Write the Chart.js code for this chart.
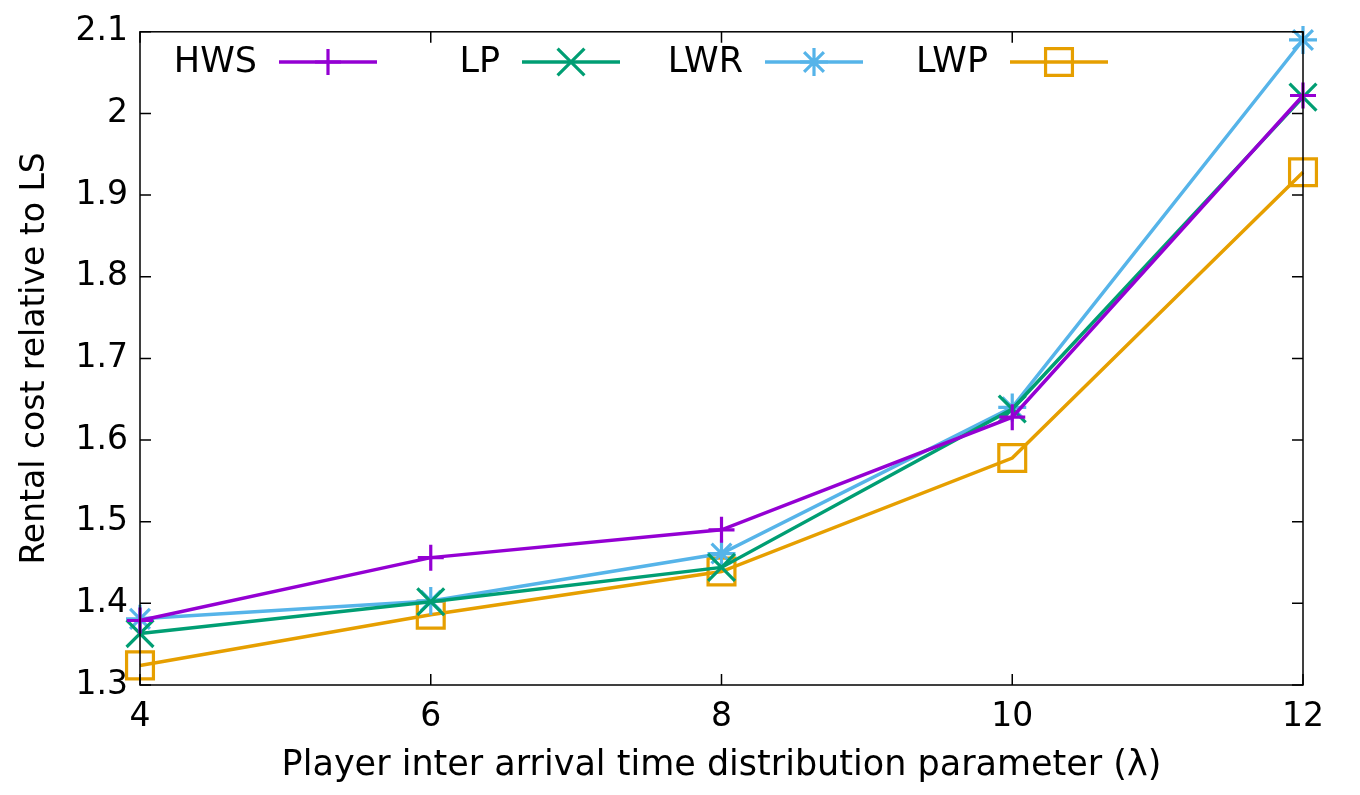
<!DOCTYPE html>
<html>
<head>
<meta charset="utf-8">
<script src="https://cdn.jsdelivr.net/npm/chart.js@4"></script>
<style>
html,body{margin:0;padding:0;background:#fff;}
#wrap{width:1360px;height:795px;position:relative;}
</style>
</head>
<body>
<div id="wrap"><canvas id="c" width="1360" height="795"></canvas></div>
<script>
const lambdas = [4, 6, 8, 10, 12];
const hws = [1.379, 1.456, 1.490, 1.628, 2.022];
const lp  = [1.363, 1.402, 1.444, 1.638, 2.020];
const lwr = [1.381, 1.403, 1.461, 1.640, 2.090];
const lwp = [1.324, 1.386, 1.439, 1.578, 1.928];
const yTicks = [1.3, 1.4, 1.5, 1.6, 1.7, 1.8, 1.9, 2.0, 2.1];
const xTicks = [4, 6, 8, 10, 12];
const seriesNames = ['HWS', 'LP', 'LWR', 'LWP'];

const FONT = "'DejaVu Sans', sans-serif";
const colors = ['#9400d3', '#009e73', '#56b4e9', '#e69f00'];
const styles = ['cross', 'crossRot', 'star', 'rect'];
const radii = [13, 19, 14, 19];
const values = [hws, lp, lwr, lwp];

const datasets = seriesNames.map((n, i) => ({
  label: n,
  data: lambdas.map((x, j) => ({x: x, y: values[i][j]})),
  borderColor: colors[i],
  backgroundColor: 'rgba(0,0,0,0)',
  borderWidth: 3.5,
  pointStyle: styles[i],
  pointRadius: radii[i],
  pointBorderWidth: 3.2,
  pointBorderColor: colors[i],
  pointBackgroundColor: 'rgba(0,0,0,0)',
  tension: 0,
  clip: false
}));

function drawMarker(ctx, style, r, x, y) {
  if (Chart.helpers && Chart.helpers.drawPoint) {
    Chart.helpers.drawPoint(ctx, {pointStyle: style, radius: r, rotation: 0, borderWidth: 3.2}, x, y);
    return;
  }
  ctx.beginPath();
  if (style === 'rect') {
    const s = Math.SQRT1_2 * r;
    ctx.rect(x - s, y - s, 2 * s, 2 * s);
  } else {
    if (style === 'cross' || style === 'star') {
      ctx.moveTo(x, y - r); ctx.lineTo(x, y + r);
      ctx.moveTo(x - r, y); ctx.lineTo(x + r, y);
    }
    if (style === 'crossRot' || style === 'star') {
      const o = Math.SQRT1_2 * r;
      ctx.moveTo(x - o, y - o); ctx.lineTo(x + o, y + o);
      ctx.moveTo(x - o, y + o); ctx.lineTo(x + o, y - o);
    }
  }
  ctx.stroke();
}

const framePlugin = {
  id: 'frame',
  afterDraw(chart) {
    const {ctx, chartArea: a, scales} = chart;
    ctx.save();
    ctx.strokeStyle = '#000';
    ctx.lineWidth = 1.5;
    ctx.strokeRect(a.left, a.top, a.right - a.left, a.bottom - a.top);
    const tl = 11;
    ctx.beginPath();
    xTicks.forEach(v => {
      const px = scales.x.getPixelForValue(v);
      ctx.moveTo(px, a.bottom); ctx.lineTo(px, a.bottom - tl);
      ctx.moveTo(px, a.top); ctx.lineTo(px, a.top + tl);
    });
    yTicks.forEach(v => {
      const py = scales.y.getPixelForValue(v);
      ctx.moveTo(a.left, py); ctx.lineTo(a.left + tl, py);
      ctx.moveTo(a.right, py); ctx.lineTo(a.right - tl, py);
    });
    ctx.stroke();

    // legend (gnuplot style: text then sample)
    const textRight = [257, 500, 743, 988];
    const ly = 62;
    ctx.font = '35px ' + FONT;
    ctx.textAlign = 'right';
    ctx.textBaseline = 'middle';
    seriesNames.forEach((n, i) => {
      ctx.fillStyle = '#000';
      ctx.fillText(n, textRight[i], ly + 1);
      const x0 = textRight[i] + 22, x1 = x0 + 98;
      ctx.strokeStyle = colors[i];
      ctx.lineWidth = 3.5;
      ctx.beginPath(); ctx.moveTo(x0, ly); ctx.lineTo(x1, ly); ctx.stroke();
      ctx.lineWidth = 3.2;
      ctx.fillStyle = 'rgba(0,0,0,0)';
      drawMarker(ctx, styles[i], radii[i], (x0 + x1) / 2, ly);
    });
    ctx.restore();
  }
};

new Chart(document.getElementById('c'), {
  type: 'line',
  data: {datasets: datasets},
  options: {
    responsive: false,
    animation: false,
    layout: {padding: {left: 0, top: 26, right: 57, bottom: 0}},
    plugins: {legend: {display: false}, tooltip: {enabled: false}},
    scales: {
      x: {
        type: 'linear',
        min: 4, max: 12,
        afterBuildTicks(s) { s.ticks = xTicks.map(v => ({value: v})); },
        afterFit(s) { s.height = 110; },
        grid: {display: false, drawTicks: false},
        border: {display: false},
        ticks: {color: '#000', font: {family: FONT, size: 33}, padding: 13, maxRotation: 0},
        title: {display: true, text: 'Player inter arrival time distribution parameter (λ)',
                color: '#000', font: {family: FONT, size: 35}, padding: {top: 0, bottom: 8}}
      },
      y: {
        type: 'linear',
        min: 1.3, max: 2.1,
        afterBuildTicks(s) { s.ticks = yTicks.map(v => ({value: v})); },
        afterFit(s) { s.width = 140; },
        grid: {display: false, drawTicks: false},
        border: {display: false},
        ticks: {color: '#000', font: {family: FONT, size: 33}, padding: 12,
                callback: (v) => (Math.round(v * 10) / 10).toString()},
        title: {display: true, text: 'Rental cost relative to LS',
                color: '#000', font: {family: FONT, size: 33}, padding: {top: 16, bottom: 0}}
      }
    }
  },
  plugins: [framePlugin]
});
</script>
</body>
</html>
